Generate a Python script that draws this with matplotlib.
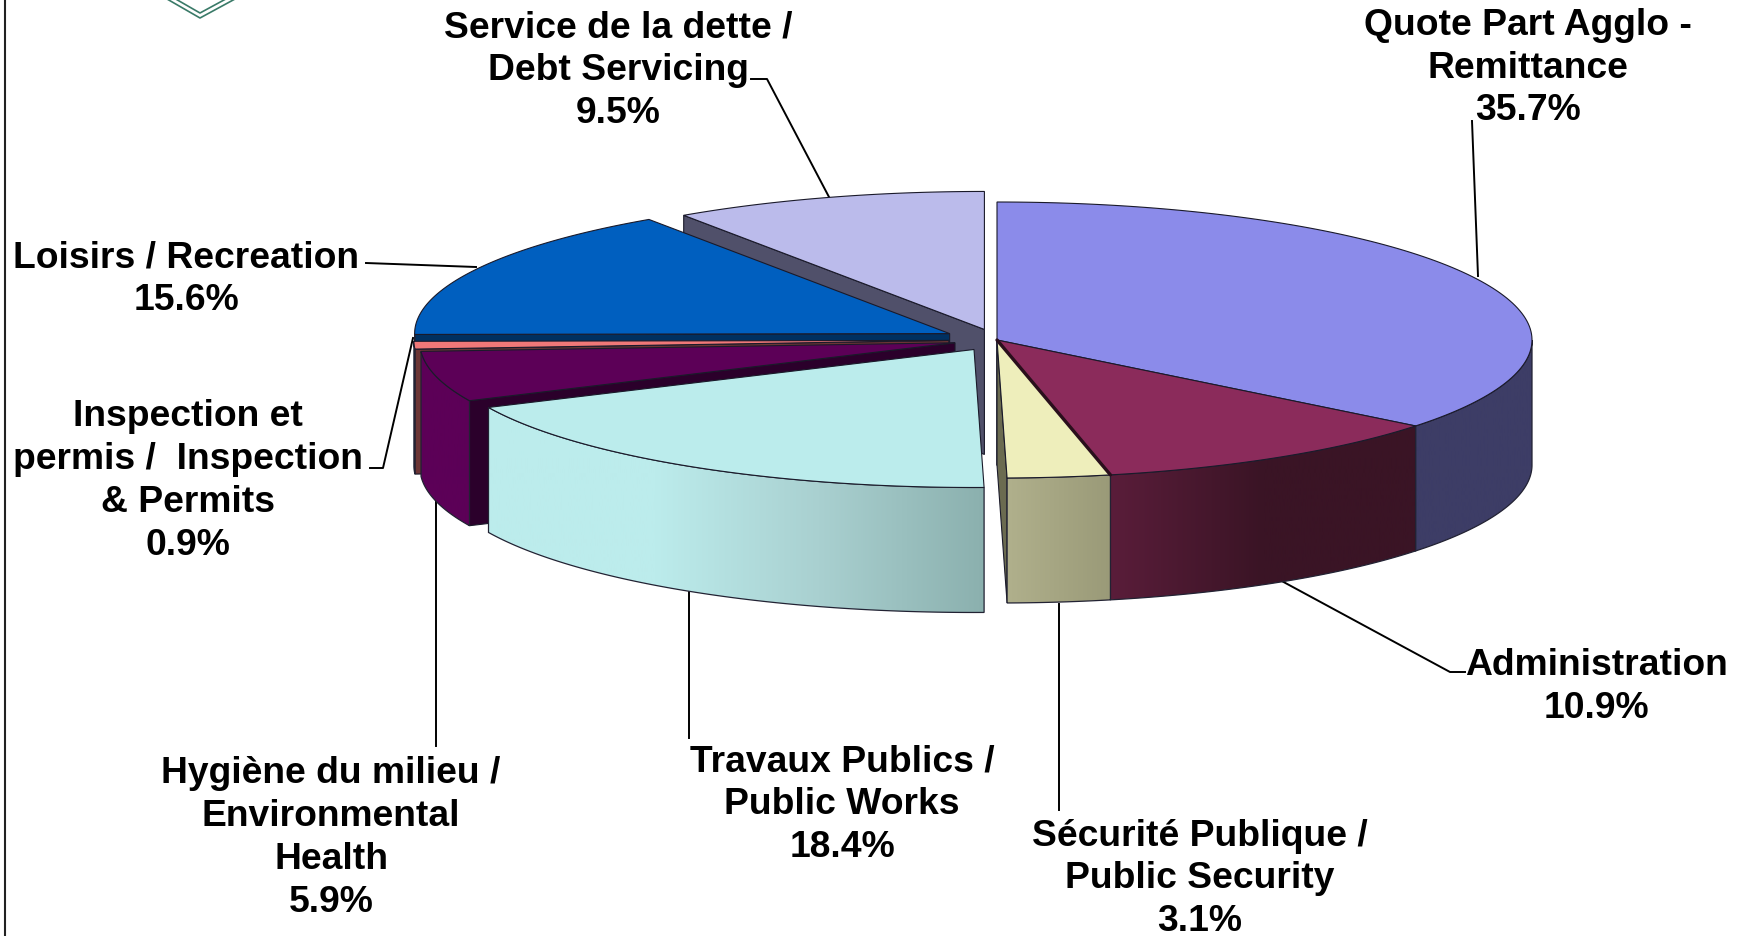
import numpy as np
import matplotlib
matplotlib.use('Agg')
import matplotlib.pyplot as plt
from matplotlib.patches import Polygon
from matplotlib.colors import LinearSegmentedColormap

# data, clockwise from 12 o'clock
names = ['Quote Part Agglo -\nRemittance', 'Administration', 'Sécurité Publique /\nPublic Security',
         'Travaux Publics /\nPublic Works', 'Hygiène du milieu /\nEnvironmental\nHealth',
         'Inspection et\npermis /  Inspection\n& Permits', 'Loisirs / Recreation',
         'Service de la dette /\nDebt Servicing']
shares = [35.7, 10.9, 3.1, 18.4, 5.9, 0.9, 15.6, 9.5]
explode = [0, 0, 0, 0.081, 0.081, 0.09, 0.1, 0.08]

top_colors = ['#8b8bea', '#8b2b5b', '#eeeebb', '#bbecec', '#5c0057', '#f07878', '#005fbf', '#bbbbeb']
face_colors = ['#3d3d66', '#3d1426', '#6b6b50', '#8db0ae', '#2b002b', '#6b3535', '#003060', '#50506a']
side_colors = [['#3d3d66', '#3d3d66'], ['#5a1d3a', '#3a1425', '#3a1425'], ['#b0b08c', '#9a9a78'],
               ['#bcecec', '#bcecec', '#a9d0d0', '#8bb0ae'], ['#5c0057', '#5c0057'], ['#6b3535', '#6b3535'],
               ['#003060', '#003060'], ['#50506a', '#50506a']]
draw_order = [7, 6, 5, 4, 3, 0, 1, 2]

label_xy = [(1528, 68), (1596, 687), (1200, 879), (842, 805), (331, 838), (188, 481), (186, 279), (618, 71)]
leaders = [[(1472, 122), (1478, 277)], [(1278, 580), (1450, 673), (1465, 673)], [(1059, 811), (1059, 605)],
           [(689, 739), (689, 591)], [(436, 747), (436, 500)], [(370, 469), (383, 469), (413, 339)],
           [(366, 264), (476, 268)], [(751, 80), (767, 80), (829, 198)]]

CX, CY, RX, RY, DEPTH = 997, 341, 535, 138, 125
EDGE = '#1a1a2a'

plt.rcParams['font.family'] = ['Liberation Sans', 'DejaVu Sans']
fig = plt.figure(figsize=(17.42, 9.37), dpi=100)
ax = fig.add_axes([0, 0, 1, 1])


def rim(t, ox, oy):
    r = np.radians(t)
    return ox + RX * np.sin(r), oy - RY * np.cos(r)


# frame and the bit of the logo that is left
ax.plot([5, 5], [0, 937], color='#222222', lw=1.5)
for dy in (0, 5):
    ax.plot([167, 200, 235], [-5 + dy, 14 + dy, -5 + dy], color='#3a7a68', lw=1.2)

for pts in leaders:
    xs, ys = zip(*pts)
    ax.plot(xs, ys, color='black', lw=1.4, zorder=1)

ends = np.cumsum(shares) / np.sum(shares) * 360
starts = np.concatenate([[0], ends[:-1]])

z = 2
for i in draw_order:
    t1, t2 = starts[i], ends[i]
    mid = (t1 + t2) / 2
    ox = CX + RX * explode[i] * np.sin(np.radians(mid))
    oy = CY - RY * explode[i] * np.cos(np.radians(mid))
    ts = np.linspace(t1, t2, 120)
    ex, ey = rim(ts, ox, oy)

    # radial walls that face the viewer
    for t, seen in ((t1, np.sin(np.radians(t1)) < 0), (t2, np.sin(np.radians(t2)) > 0)):
        if seen:
            x, y = rim(t, ox, oy)
            ax.add_patch(Polygon([(ox, oy), (x, y), (x, y + DEPTH), (ox, oy + DEPTH)], closed=True,
                                 fc=face_colors[i], ec=EDGE, lw=0.8, zorder=z))

    # outer wall, front half only
    lo, hi = max(t1, 90), min(t2, 270)
    if hi > lo:
        tf = np.linspace(lo, hi, 120)
        fx, fy = rim(tf, ox, oy)
        verts = list(zip(fx, fy)) + list(zip(fx[::-1], fy[::-1] + DEPTH))
        wall = Polygon(verts, closed=True, fc='none', ec='#222233', lw=0.9, zorder=z + 0.2)
        ax.add_patch(wall)
        cmap = LinearSegmentedColormap.from_list('w%d' % i, side_colors[i])
        # colour runs from the left side of the wall to the right
        im = ax.imshow(np.linspace(0, 1, 256).reshape(1, -1), extent=[fx.min(), fx.max(), 937, 0],
                       cmap=cmap, aspect='auto', zorder=z + 0.1)
        im.set_clip_path(wall)

    ax.add_patch(Polygon([(ox, oy)] + list(zip(ex, ey)), closed=True, fc=top_colors[i], ec=EDGE,
                         lw=0.8, zorder=z + 0.3))
    z += 1

# heavy seam between Administration and Sécurité
sx, sy = rim(ends[1], CX, CY)
ax.plot([CX, sx], [CY, sy], color='#2a0f1c', lw=2.4, zorder=z, solid_capstyle='round')

for name, share, (x, y) in zip(names, shares, label_xy):
    ax.text(x, y, '%s\n%.1f%%' % (name, share), ha='center', va='center', multialignment='center',
            fontsize=26.85, fontweight='bold', color='black', linespacing=1.29, zorder=z + 1)

ax.set_xlim(0, 1742)
ax.set_ylim(937, 0)
ax.axis('off')
fig.savefig('out.png', dpi=100, facecolor='white')
